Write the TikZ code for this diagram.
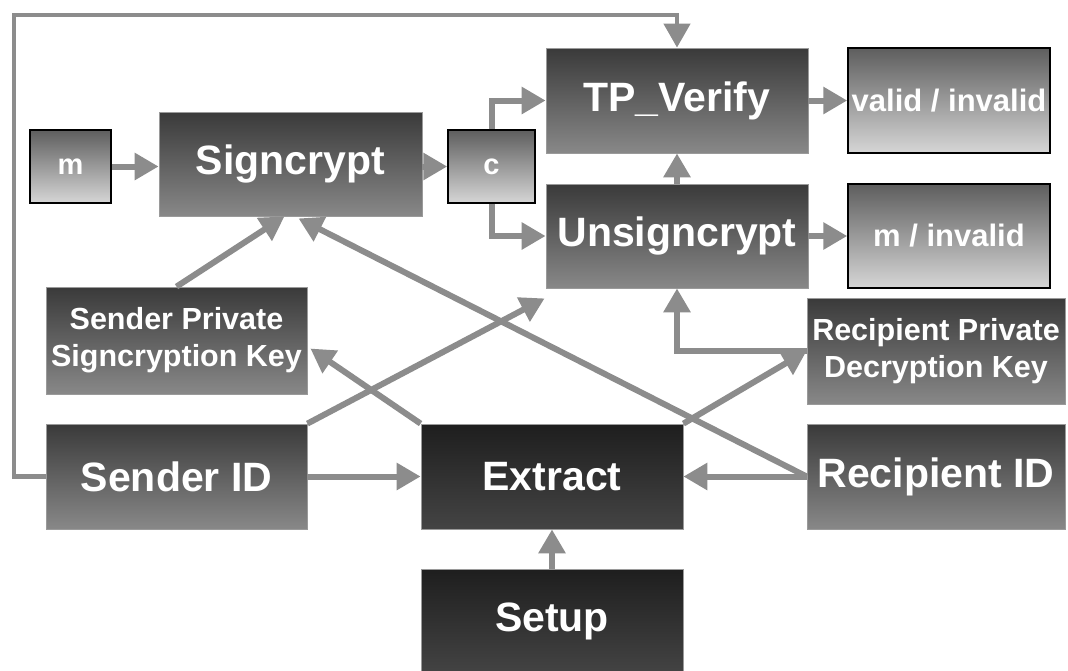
\documentclass[tikz,border=0pt]{standalone}
\usepackage{fontspec}
\setmainfont{Liberation Sans}
\usetikzlibrary{arrows.meta,calc}
\definecolor{arrowgray}{HTML}{8C8C8C}
\definecolor{looptone}{HTML}{9A9A9A}
\definecolor{boxtop}{HTML}{3A3A3A}
\definecolor{boxbot}{HTML}{888888}
\definecolor{boxedge}{HTML}{9A9A9A}
\definecolor{darktop}{HTML}{1E1E1E}
\definecolor{darkbot}{HTML}{444444}
\definecolor{lighttop}{HTML}{5E5E5E}
\definecolor{lightmid}{HTML}{BEBEBE}
\definecolor{lightbot}{HTML}{D6D6D6}
\begin{document}
\begin{tikzpicture}[x=1pt,y=-1pt,
  mainbox/.style={rectangle, inner sep=0pt, top color=boxtop, bottom color=boxbot, draw=boxedge, line width=0.8pt, text=white, font=\bfseries\fontsize{41}{48}\selectfont},
  keybox/.style={mainbox, align=center, font=\bfseries\fontsize{30.5}{37}\selectfont},
  darkbox/.style={rectangle, inner sep=0pt, top color=darktop, bottom color=darkbot, draw=boxedge, line width=0.8pt, text=white, font=\bfseries\fontsize{41}{48}\selectfont},
  lightbox/.style={rectangle, inner sep=0pt, top color=lighttop, middle color=lightmid, bottom color=lightbot, draw=black, line width=1.5pt, text=white, font=\bfseries\fontsize{31}{37}\selectfont},
  arr/.style={draw=arrowgray, line width=6pt, -{Triangle[length=24pt,width=26pt]}},
  looparr/.style={draw=looptone, line width=4.5pt, -{Triangle[length=24pt,width=26pt]}, arrowgray}
]
\clip (0,0) rectangle (1068,670);
\fill[white] (0,0) rectangle (1068,670);

\node[mainbox, minimum width=263pt, minimum height=104pt] (sign) at (290.5,164) {Signcrypt};
\node[lightbox, minimum width=81pt, minimum height=73pt, font=\bfseries\fontsize{29}{35}\selectfont] (m) at (70.5,166.5) {m};
\node[lightbox, minimum width=87pt, minimum height=73pt, font=\bfseries\fontsize{29}{35}\selectfont] (c) at (491.5,166.5) {c};
\node[mainbox, minimum width=262pt, minimum height=105pt] (tp) at (677,100.5) {TP\_Verify};
\node[lightbox, minimum width=202pt, minimum height=105pt] (valid) at (949,100.5) {valid / invalid};
\node[mainbox, minimum width=262pt, minimum height=104pt] (unsign) at (677,236) {Unsigncrypt};
\node[lightbox, minimum width=202pt, minimum height=104pt] (minv) at (949,236) {m / invalid};
\node[keybox, minimum width=261pt, minimum height=107pt] (spsk) at (176.5,340.5) {Sender Private\\Signcryption Key};
\node[keybox, minimum width=258pt, minimum height=106pt] (rpdk) at (936,351) {Recipient Private\\Decryption Key};
\node[mainbox, minimum width=261pt, minimum height=105pt] (sid) at (176.5,476.5) {Sender ID};
\node[darkbox, minimum width=262pt, minimum height=105pt] (ext) at (552,476.5) {Extract};
\node[mainbox, minimum width=258pt, minimum height=105pt] (rid) at (936,476.5) {Recipient ID};
\node[darkbox, minimum width=262pt, minimum height=105pt] (setup) at (552,621.5) {Setup};

\draw[arr] (m.east) -- (m.east -| sign.west);
\draw[arr] (sign.east |- c.west) -- (c.west);
\draw[arr] (c.north) |- (tp.west);
\draw[arr] (c.south) |- (unsign.west);
\draw[arr] (tp.east) -- (valid.west);
\draw[arr] (unsign.east) -- (minv.west);
\draw[arr] (unsign.north) -- (tp.south);
\draw[arr] (spsk.north) -- ($(sign.south)+(-6,0)$);
\draw[arr] (rid.west) -- ($(sign.south)+(8,2)$);
\draw[arr] (ext.north west) -- ($(spsk.east)+(3,8)$);
\draw[arr] (sid.north east) -- ($(unsign.south west)+(-1,10)$);
\draw[arr] (ext.north east) -- (rpdk.west);
\draw[arr] (rpdk.west) -| (unsign.south);
\draw[arr] (sid.east) -- (ext.west);
\draw[arr] (rid.west) -- (ext.east);
\draw[arr] (setup.north) -- (ext.south);
\coordinate (loop) at (14,15);
\draw[looparr] (sid.west) -| (loop) -| (tp.north);
\end{tikzpicture}
\end{document}
